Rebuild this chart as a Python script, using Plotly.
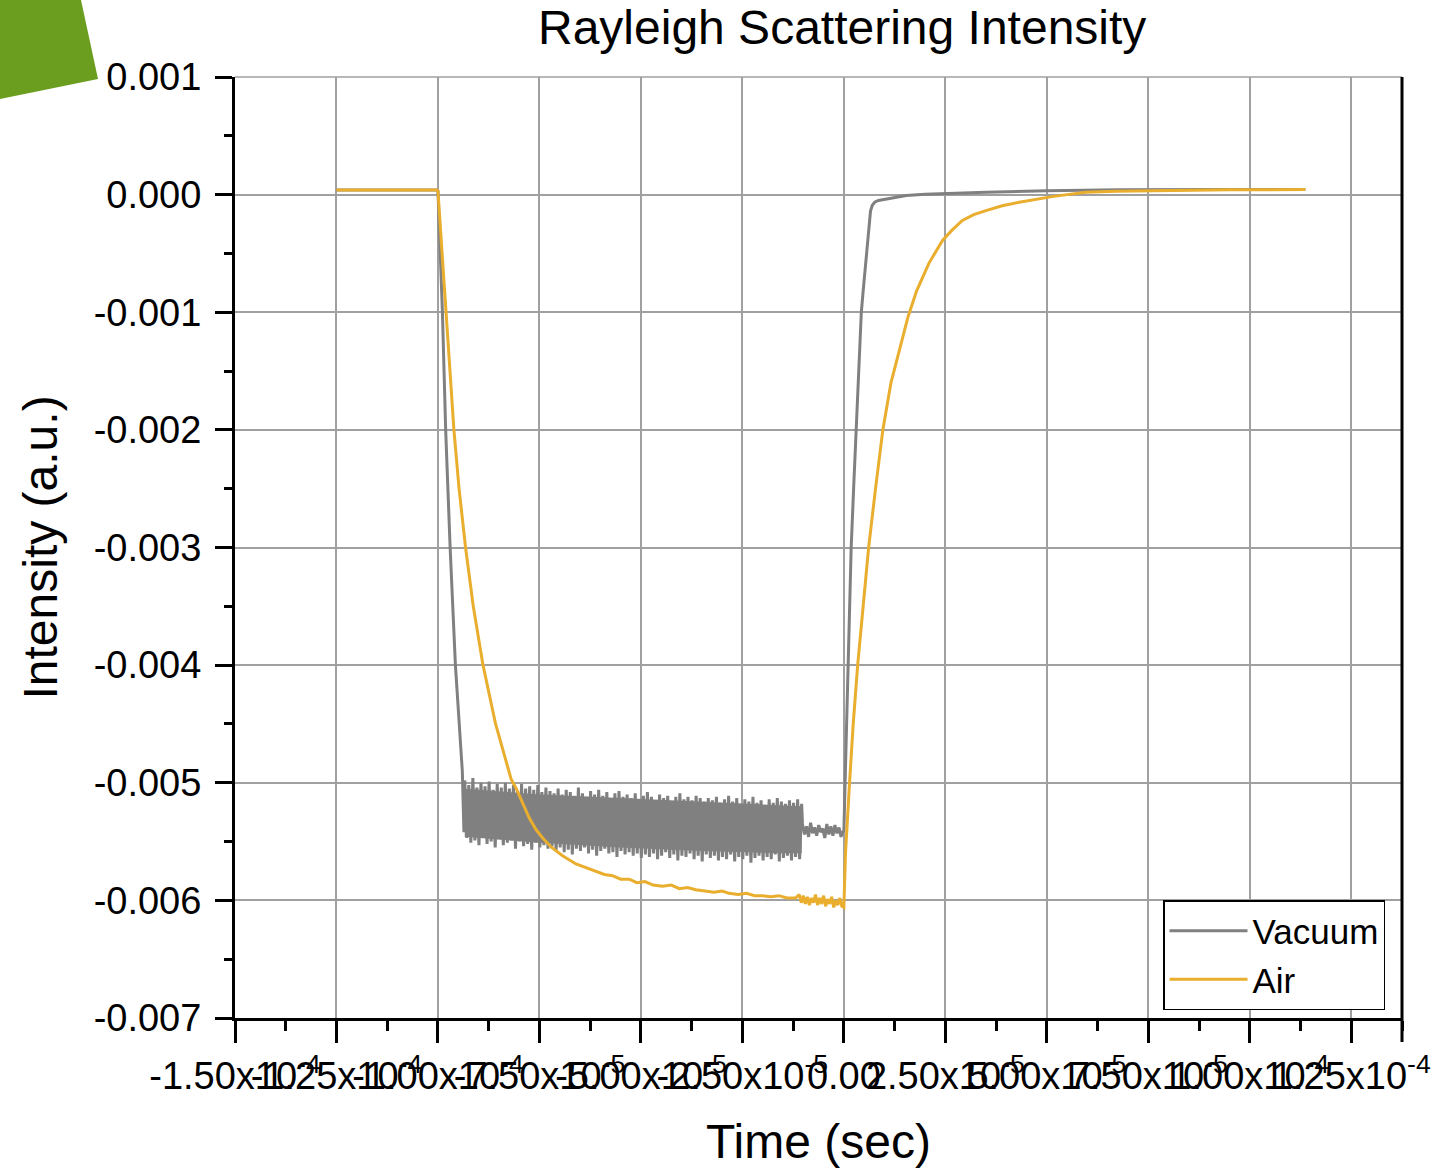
import plotly.graph_objects as go

# ---------------- data (time in microseconds, intensity in units of 1e-3 a.u.) ----------------
T_SCALE = 1e-6
I_SCALE = 1e-3

vac_flat_t = [-125.0, -120.0, -115.0, -110.0, -105.0, -100.2]
vac_flat_i = [0.040, 0.041, 0.039, 0.040, 0.041, 0.040]

vac_drop_t = [-100.0, -99.5, -98.9, -98.1, -97.0, -95.7, -94.8, -94.0, -93.6]
vac_drop_i = [0.03, -0.45, -1.0, -2.0, -3.0, -4.0, -4.5, -4.9, -5.42]

vac_band_t = [
    -93.4, -92.9, -92.4, -91.9, -91.4, -90.9, -90.4, -89.9, -89.4, -88.9,
    -88.4, -87.9, -87.4, -86.9, -86.4, -85.9, -85.4, -84.9, -84.4, -83.9,
    -83.4, -82.9, -82.4, -81.9, -81.4, -80.9, -80.4, -79.9, -79.4, -78.9,
    -78.4, -77.9, -77.4, -76.9, -76.4, -75.9, -75.4, -74.9, -74.4, -73.9,
    -73.4, -72.9, -72.4, -71.9, -71.4, -70.9, -70.4, -69.9, -69.4, -68.9,
    -68.4, -67.9, -67.4, -66.9, -66.4, -65.9, -65.4, -64.9, -64.4, -63.9,
    -63.4, -62.9, -62.4, -61.9, -61.4, -60.9, -60.4, -59.9, -59.4, -58.9,
    -58.4, -57.9, -57.4, -56.9, -56.4, -55.9, -55.4, -54.9, -54.4, -53.9,
    -53.4, -52.9, -52.4, -51.9, -51.4, -50.9, -50.4, -49.9, -49.4, -48.9,
    -48.4, -47.9, -47.4, -46.9, -46.4, -45.9, -45.4, -44.9, -44.4, -43.9,
    -43.4, -42.9, -42.4, -41.9, -41.4, -40.9, -40.4, -39.9, -39.4, -38.9,
    -38.4, -37.9, -37.4, -36.9, -36.4, -35.9, -35.4, -34.9, -34.4, -33.9,
    -33.4, -32.9, -32.4, -31.9, -31.4, -30.9, -30.4, -29.9, -29.4, -28.9,
    -28.4, -27.9, -27.4, -26.9, -26.4, -25.9, -25.4, -24.9, -24.4, -23.9,
    -23.4, -22.9, -22.4, -21.9, -21.4, -20.9, -20.4, -19.9, -19.4, -18.9,
    -18.4, -17.9, -17.4, -16.9, -16.4, -15.9, -15.4, -14.9, -14.4, -13.9,
    -13.4, -12.9, -12.4, -11.9, -11.4, -10.9, -10.4,
]
vac_band_i = [
    -4.98, -5.47, -5.02, -5.51, -4.96, -5.49, -5.04, -5.53, -5.00, -5.46,
    -5.03, -5.52, -4.99, -5.50, -5.06, -5.55, -5.01, -5.48, -5.04, -5.53,
    -5.00, -5.51, -5.05, -5.49, -5.02, -5.56, -5.07, -5.50, -5.01, -5.54,
    -5.05, -5.52, -5.03, -5.57, -5.06, -5.51, -5.02, -5.55, -5.08, -5.53,
    -5.04, -5.56, -5.07, -5.54, -5.09, -5.58, -5.05, -5.55, -5.10, -5.59,
    -5.06, -5.57, -5.08, -5.61, -5.11, -5.56, -5.04, -5.58, -5.09, -5.55,
    -5.12, -5.60, -5.07, -5.57, -5.10, -5.62, -5.06, -5.58, -5.11, -5.56,
    -5.08, -5.60, -5.13, -5.59, -5.09, -5.63, -5.07, -5.58, -5.12, -5.61,
    -5.10, -5.59, -5.13, -5.62, -5.09, -5.60, -5.14, -5.64, -5.11, -5.61,
    -5.08, -5.63, -5.12, -5.60, -5.15, -5.65, -5.10, -5.62, -5.13, -5.59,
    -5.11, -5.64, -5.16, -5.61, -5.12, -5.66, -5.09, -5.62, -5.14, -5.63,
    -5.12, -5.60, -5.15, -5.65, -5.11, -5.62, -5.13, -5.67, -5.16, -5.61,
    -5.13, -5.64, -5.15, -5.62, -5.12, -5.66, -5.17, -5.63, -5.14, -5.65,
    -5.11, -5.61, -5.16, -5.67, -5.13, -5.63, -5.18, -5.65, -5.14, -5.62,
    -5.16, -5.68, -5.12, -5.64, -5.17, -5.62, -5.15, -5.66, -5.19, -5.63,
    -5.14, -5.65, -5.17, -5.61, -5.13, -5.67, -5.16, -5.64, -5.18, -5.62,
    -5.15, -5.66, -5.17, -5.63, -5.14, -5.65, -5.18,
]

# dense core of the noisy vacuum band
vac_core_t = [-93.4, -75.0, -55.0, -35.0, -15.0, -10.4]
vac_core_hi = [-5.05, -5.10, -5.13, -5.16, -5.19, -5.20]
vac_core_lo = [-5.46, -5.51, -5.55, -5.58, -5.60, -5.60]

vac_hold_t = [-10.2, -9.7, -9.2, -8.7, -8.2, -7.7, -7.2, -6.7, -6.2, -5.7,
              -5.2, -4.7, -4.2, -3.7, -3.2, -2.7, -2.2, -1.7, -1.2, -0.7, -0.2]
vac_hold_i = [-5.35, -5.44, -5.37, -5.46, -5.34, -5.43, -5.38, -5.45, -5.36, -5.42,
              -5.39, -5.47, -5.35, -5.44, -5.37, -5.45, -5.36, -5.43, -5.38, -5.46, -5.41]

vac_rise_t = [0.0, 0.3, 1.0, 1.8, 2.4, 3.0, 3.6, 4.3, 4.75, 5.4, 5.98, 6.56, 7.0, 7.3, 7.6,
              8.5, 10.4, 12.5, 15.4, 20.0, 25.0, 35.0, 50.0, 68.0, 90.0, 113.7]
vac_rise_i = [-5.42, -5.0, -4.0, -3.0, -2.5, -2.0, -1.5, -1.0, -0.82, -0.58, -0.36, -0.14, -0.09,
              -0.075, -0.065, -0.05, -0.037, -0.022, -0.008, 0.004, 0.011, 0.020, 0.034, 0.042,
              0.044, 0.043]

air_flat_t = [-125.0, -120.0, -115.0, -110.0, -105.0, -100.2]
air_flat_i = [0.040, 0.040, 0.041, 0.040, 0.039, 0.040]

air_drop_t = [-100.0, -99.0, -97.95, -97.0, -96.07, -94.8, -93.2, -91.3, -88.9, -85.8,
              -83.2, -81.97, -80.7, -79.0, -77.5, -75.8, -74.2, -72.0, -69.3, -66.0,
              -63.5, -61.1, -59.0, -57.0, -55.0, -52.9, -51.0, -49.0, -47.0, -44.7,
              -42.5, -40.5, -38.5, -36.5, -34.0, -32.0, -30.0, -28.3, -26.0, -24.0,
              -22.0, -20.1, -18.0, -16.0, -14.0, -11.9]
air_drop_i = [0.03, -0.5, -1.0, -1.5, -2.0, -2.5, -3.0, -3.5, -4.0, -4.5,
              -4.81, -4.97, -5.05, -5.19, -5.30, -5.40, -5.47, -5.55, -5.62, -5.69,
              -5.72, -5.75, -5.78, -5.79, -5.82, -5.82, -5.85, -5.84, -5.87, -5.88,
              -5.87, -5.90, -5.89, -5.91, -5.92, -5.93, -5.92, -5.94, -5.95, -5.94,
              -5.96, -5.96, -5.97, -5.96, -5.98, -5.98]

air_noise_t = [-11.0, -10.5, -10.0, -9.5, -9.0, -8.5, -8.0, -7.5, -7.0, -6.5, -6.0,
               -5.5, -5.0, -4.5, -4.0, -3.5, -3.0, -2.5, -2.0, -1.5, -1.0, -0.5, 0.0]
air_noise_i = [-5.95, -6.02, -5.96, -6.03, -5.97, -6.04, -5.98, -6.02, -5.95, -6.04, -5.98,
               -6.03, -5.96, -6.05, -5.99, -6.03, -5.97, -6.06, -6.00, -6.04, -5.98, -6.05, -6.06]

air_rise_t = [0.4, 1.4, 2.3, 3.4, 4.7, 6.1, 7.8, 9.6, 11.6, 13.7, 15.8, 17.9, 21.0, 24.3,
              26.7, 29.2, 32.0, 35.0, 39.0, 43.2, 47.0, 51.3, 55.0, 59.6, 67.0, 76.0, 85.0,
              95.0, 105.0, 113.7]
air_rise_i = [-5.6, -5.0, -4.5, -4.0, -3.5, -3.0, -2.5, -2.0, -1.6, -1.31, -1.04, -0.82, -0.58,
              -0.39, -0.30, -0.22, -0.17, -0.136, -0.095, -0.065, -0.04, -0.017, 0.0, 0.020,
              0.028, 0.034, 0.038, 0.041, 0.042, 0.043]

x_tick_vals = [-1.5e-4, -1.25e-4, -1.0e-4, -7.5e-5, -5.0e-5, -2.5e-5, 0.0,
               2.5e-5, 5.0e-5, 7.5e-5, 1.0e-4, 1.25e-4]
x_tick_text = ["-1.50x10<sup>-4</sup>", "-1.25x10<sup>-4</sup>", "-1.00x10<sup>-4</sup>",
               "-7.50x10<sup>-5</sup>", "-5.00x10<sup>-5</sup>", "-2.50x10<sup>-5</sup>",
               "0.00",
               "2.50x10<sup>-5</sup>", "5.00x10<sup>-5</sup>", "7.50x10<sup>-5</sup>",
               "1.00x10<sup>-4</sup>", "1.25x10<sup>-4</sup>"]
y_tick_vals = [0.001, 0.0, -0.001, -0.002, -0.003, -0.004, -0.005, -0.006, -0.007]
y_tick_text = ["0.001", "0.000", "-0.001", "-0.002", "-0.003", "-0.004", "-0.005", "-0.006", "-0.007"]

# ---------------- build series ----------------
vac_t = vac_flat_t + vac_drop_t + vac_band_t + vac_hold_t + vac_rise_t
vac_i = vac_flat_i + vac_drop_i + vac_band_i + vac_hold_i + vac_rise_i
air_t = air_flat_t + air_drop_t + air_noise_t + air_rise_t
air_i = air_flat_i + air_drop_i + air_noise_i + air_rise_i
core_t = vac_core_t + vac_core_t[::-1]
core_i = vac_core_hi + vac_core_lo[::-1]

FONT = "Liberation Sans, Arial, sans-serif"
GRAY = "#808080"
GOLD = "#E9AE2E"

fig = go.Figure()
fig.add_trace(go.Scatter(x=[t * T_SCALE for t in core_t], y=[v * I_SCALE for v in core_i],
                         mode="lines", fill="toself", fillcolor=GRAY, line=dict(width=0, color=GRAY),
                         showlegend=False, hoverinfo="skip"))
fig.add_trace(go.Scatter(x=[t * T_SCALE for t in vac_t], y=[v * I_SCALE for v in vac_i],
                         mode="lines", name="Vacuum", line=dict(color=GRAY, width=3)))
fig.add_trace(go.Scatter(x=[t * T_SCALE for t in air_t], y=[v * I_SCALE for v in air_i],
                         mode="lines", name="Air", line=dict(color=GOLD, width=3)))

L, R, T, B = 235, 1402, 77, 1018
W, H = 1442, 1169


def px_x(p):
    return (p - L) / (R - L)


def px_y(p):
    return (B - p) / (B - T)


fig.update_xaxes(
    range=[-1.5e-4, 1.375e-4], tickmode="array", tickvals=x_tick_vals, ticktext=x_tick_text,
    tickangle=0, ticks="outside", ticklen=22, tickwidth=3, tickcolor="black",
    showline=True, linewidth=3, linecolor="black", zeroline=False,
    showgrid=True, gridcolor="#A0A0A0", gridwidth=1.5,
    minor=dict(tick0=-1.5e-4, dtick=1.25e-5, ticks="outside", ticklen=10, tickwidth=3,
               tickcolor="black", showgrid=False),
    tickfont=dict(family=FONT, size=38, color="black"), ticklabelstandoff=0,
)
fig.update_yaxes(
    range=[-0.007, 0.001], tickmode="array", tickvals=y_tick_vals, ticktext=y_tick_text,
    ticks="outside", ticklen=17, tickwidth=3, tickcolor="black",
    showline=True, linewidth=3, linecolor="black", zeroline=False,
    showgrid=True, gridcolor="#A0A0A0", gridwidth=1.5,
    minor=dict(tick0=-0.007, dtick=0.0005, ticks="outside", ticklen=8, tickwidth=3,
               tickcolor="black", showgrid=False),
    tickfont=dict(family=FONT, size=38, color="black"), ticklabelstandoff=6,
)

green_path = (f"M {px_x(0)},{px_y(0)} L {px_x(81)},{px_y(0)} "
              f"L {px_x(98)},{px_y(79)} L {px_x(0)},{px_y(99)} Z")

fig.update_layout(
    width=W, height=H,
    margin=dict(l=L, r=W - R, t=T, b=H - B, autoexpand=False),
    paper_bgcolor="white", plot_bgcolor="white",
    font=dict(family=FONT, color="black"),
    showlegend=True,
    legend=dict(x=px_x(1385), y=px_y(955), xanchor="right", yanchor="middle",
                bgcolor="white", bordercolor="black", borderwidth=1.5,
                font=dict(family=FONT, size=35, color="black"), itemwidth=78,
                tracegroupgap=0),
    shapes=[
        dict(type="path", xref="paper", yref="paper", path=green_path,
             fillcolor="#6B9E1F", line=dict(width=0), layer="above"),
        dict(type="line", xref="paper", yref="paper", x0=0, x1=1, y0=1, y1=1,
             line=dict(color="#A0A0A0", width=1.5), layer="below"),
        dict(type="line", xref="paper", yref="paper", x0=1, x1=1, y0=px_y(1042), y1=1,
             line=dict(color="black", width=3), layer="above"),
    ],
    annotations=[
        dict(text="Rayleigh Scattering Intensity", xref="paper", yref="paper",
             x=px_x(841.5), y=px_y(27), xanchor="center", yanchor="middle",
             showarrow=False, font=dict(family=FONT, size=48, color="black")),
        dict(text="Time (sec)", xref="paper", yref="paper",
             x=px_x(818.5), y=px_y(1141), xanchor="center", yanchor="middle",
             showarrow=False, font=dict(family=FONT, size=48, color="black")),
        dict(text="Intensity (a.u.)", xref="paper", yref="paper",
             x=px_x(40), y=px_y(547.5), xanchor="center", yanchor="middle", textangle=-90,
             showarrow=False, font=dict(family=FONT, size=48, color="black")),
    ],
)

# the page's default 8px body margin would shift the figure; remove it
fig.write_html("out.html", config={"displayModeBar": False},
               post_script="document.body.style.margin='0px';")
